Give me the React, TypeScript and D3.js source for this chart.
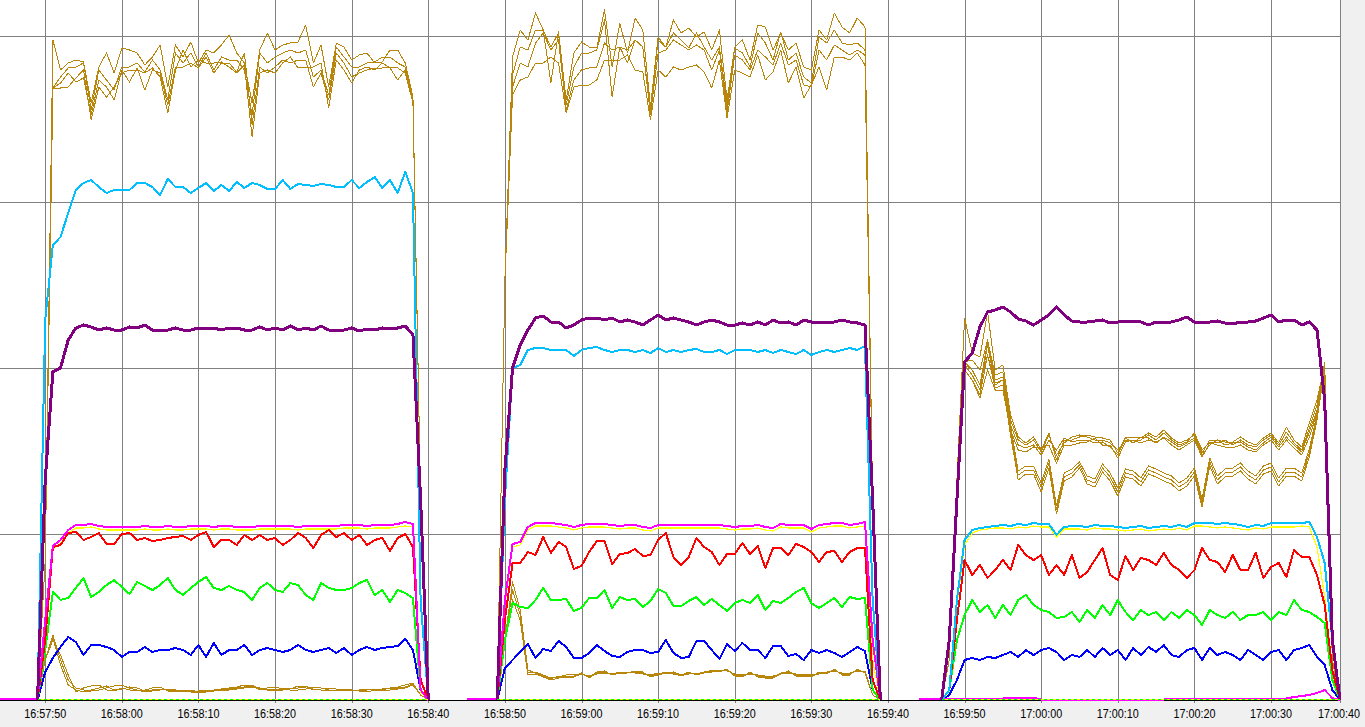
import React from "react";
import * as d3 from "d3";

const WIDTH = 1365;
const HEIGHT = 727;
const PLOT_RIGHT = 1340;
const PLOT_BOTTOM = 700;

// time axis: seconds relative to 16:57:50
const BASE = { h: 16, m: 57, s: 50 };
const X_DOMAIN_SECONDS = [-5.9, 169];
const TICK_LABELS = [
  "16:57:50", "16:58:00", "16:58:10", "16:58:20", "16:58:30", "16:58:40",
  "16:58:50", "16:59:00", "16:59:10", "16:59:20", "16:59:30", "16:59:40",
  "16:59:50", "17:00:00", "17:00:10", "17:00:20", "17:00:30", "17:00:40",
];
const Y_MAX = 700;
const Y_GRID = [165, 331, 497, 663];

const RUN_STARTS = [-1, 59, 117];
const MAGENTA_STARTS = [-6, 55, 114];
const IDLE_ZERO_SPANS = [[-1, 50], [59, 109], [117, 169]];

// ---- gold, upper bundle (4 lines) ----
const GOLD_A_1 = [0,140,660,630,637,640,638,597,633,647,627,652,650,647,635,643,655,613,655,643,658,637,650,647,655,665,647,637,597,650,667,650,655,657,658,675,637,655,613,657,653,640,645,647,637,638,650,650,637,603,200,0];
const GOLD_B_1 = [0,140,612,623,632,633,637,590,630,620,610,633,633,637,628,640,630,600,647,637,647,633,647,630,643,640,640,630,585,647,637,643,647,650,647,650,623,630,605,653,643,633,633,637,638,643,643,637,633,600,200,0];
const GOLD_C_1 = [0,140,612,617,627,618,622,585,620,613,600,630,618,632,610,630,627,595,633,633,637,632,643,627,637,637,628,647,575,633,627,633,640,637,640,640,613,627,600,647,637,623,627,630,632,632,633,632,627,597,200,0];
const GOLD_D_1 = [0,140,612,612,613,622,630,580,613,603,613,627,630,630,627,632,623,587,630,650,633,640,637,637,638,633,627,635,563,627,630,627,637,643,632,633,633,637,592,640,630,617,630,633,630,637,632,620,630,599,200,0];

const GOLD_A_2 = [0,420,643,670,660,687,670,617,668,600,647,658,653,652,690,633,677,647,682,670,593,663,653,680,667,672,663,668,650,670,600,653,660,640,675,673,650,667,650,657,633,630,670,660,687,673,667,682,673,200,0];
const GOLD_B_2 = [0,420,625,653,650,670,670,653,667,595,633,647,647,650,680,603,653,650,660,653,588,660,653,667,660,652,667,653,640,653,595,652,647,633,667,657,640,668,640,647,623,617,663,657,670,657,655,657,650,200,0];
const GOLD_C_2 = [0,420,613,637,633,657,667,650,660,590,620,630,632,633,657,650,653,637,660,653,585,647,650,660,655,650,655,650,630,650,588,645,640,630,650,643,635,657,635,640,615,613,650,640,655,650,645,650,645,200,0];
const GOLD_D_2 = [0,420,605,620,623,637,637,643,637,587,613,615,615,620,640,640,640,645,630,628,580,630,623,633,630,633,635,628,612,640,582,630,627,623,645,620,628,650,617,633,602,615,633,610,643,643,640,647,635,200,0];

const GOLD_A_3 = [0,40,220,382,347,343,388,330,335,285,263,257,263,250,267,240,260,260,263,265,263,262,260,247,263,263,262,267,263,270,262,257,260,265,247,260,260,258,258,263,258,255,262,267,257,273,260,253,277,300,335,40,0];
const GOLD_B_3 = [0,40,220,338,340,330,360,325,328,280,260,255,260,248,265,245,257,263,265,263,260,260,257,250,260,260,260,265,260,267,260,255,258,267,250,258,257,260,255,260,255,253,260,265,255,268,257,250,272,295,332,40,0];
const GOLD_C_3 = [0,40,220,335,330,315,345,317,320,275,255,252,255,245,260,250,262,258,260,260,257,258,253,245,262,257,263,262,257,263,258,253,257,262,245,255,260,255,257,258,253,250,257,263,253,263,255,248,268,290,328,40,0];
const GOLD_D_3 = [0,40,220,330,320,302,330,310,310,270,250,248,253,252,255,237,255,255,257,258,262,255,255,242,258,260,257,260,258,262,255,250,255,260,243,257,255,253,252,255,250,248,255,260,250,260,252,245,263,287,325,40,0];

// ---- gold, lower bundle (3 lines) ----
const GOLD_L1_1 = [0,40,65,40,20,12,10,10,12,14,10,11,13,12,9,10,11,10,9,9,10,8,9,10,11,12,13,15,15,10,11,10,11,12,12,14,10,11,12,11,10,10,9,10,11,10,12,13,15,17,5,0];
const GOLD_L2_1 = [0,40,60,45,25,8,12,14,15,10,9,12,10,9,10,12,13,9,8,10,8,7,8,9,10,11,12,13,14,12,10,9,10,11,14,12,11,10,9,10,10,9,10,11,9,11,12,12,13,16,5,0];
const GOLD_L3_1 = [0,40,62,35,15,10,8,9,10,12,14,15,12,10,8,9,10,11,10,8,9,9,10,10,9,10,11,12,13,11,12,13,11,10,10,11,13,12,10,9,11,10,9,8,10,10,10,11,12,15,5,0];

const GOLD_L1_2 = [0,60,118,90,30,27,24,21,24,24,24,27,22,27,28,26,28,28,28,27,24,26,28,27,24,27,26,28,29,29,30,25,24,27,24,23,23,27,28,25,25,24,27,27,30,26,26,30,28,5,0];
const GOLD_L2_2 = [0,60,110,85,28,28,25,22,23,25,26,26,24,26,27,27,27,28,27,26,25,27,27,26,25,26,27,27,28,30,29,26,25,26,25,24,24,26,27,26,26,25,26,28,29,27,27,29,29,5,0];
const GOLD_L3_2 = [0,60,100,80,25,26,23,20,22,23,23,26,23,28,29,25,27,27,29,28,23,25,27,28,25,28,25,27,30,28,31,24,23,28,23,22,22,26,29,24,24,23,28,26,31,25,25,31,27,5,0];

const GOLD_L1_3 = [0,40,220,335,325,310,355,315,320,270,225,230,230,213,237,190,223,227,235,220,217,232,223,208,227,225,218,230,227,223,220,213,218,228,197,238,220,227,228,233,225,220,230,233,218,228,228,223,247,283,335,40,0];
const GOLD_L2_3 = [0,40,220,330,320,305,345,312,315,265,220,226,226,208,232,186,219,223,232,216,213,228,219,204,223,221,214,226,223,219,216,209,214,224,193,234,216,223,224,229,221,216,226,229,214,224,224,219,243,280,332,40,0];
const GOLD_L3_3 = [0,40,220,338,330,315,358,320,323,275,229,234,234,217,241,194,227,231,238,224,221,236,227,212,231,229,222,234,231,227,224,217,222,232,201,242,224,231,232,237,229,224,234,237,222,232,232,227,251,286,338,40,0];

// ---- cyan ----
const CYAN_1 = [0,380,455,463,487,510,517,520,513,507,510,510,510,517,517,513,505,521,513,513,507,512,517,509,515,509,518,512,517,515,511,511,520,511,516,515,514,516,515,513,513,520,512,518,523,512,520,507,528,507,100,0];
const CYAN_2 = [0,200,332,335,350,352,352,350,350,350,344,350,352,353,350,348,350,350,348,350,347,352,348,350,348,350,351,348,348,350,346,350,350,350,348,350,347,350,348,346,350,345,348,350,348,350,352,350,354,100,0];
const CYAN_3 = [0,10,100,160,170,172,173,174,175,174,176,175,177,176,176,165,173,174,174,173,175,174,174,173,172,173,174,172,173,174,173,175,173,177,177,177,176,177,176,175,173,175,174,177,177,177,177,177,178,163,137,60,0];

// ---- purple ----
const PURPLE_1 = [0,220,328,332,360,372,375,373,370,372,370,370,373,372,375,370,370,370,372,370,370,372,372,372,370,372,372,370,370,373,370,372,370,374,370,372,370,374,370,369,370,372,369,371,370,372,371,372,374,365,200,0];
const PURPLE_2 = [0,230,332,355,370,382,384,378,378,372,375,380,382,382,380,382,378,380,378,375,380,385,380,382,380,378,375,378,380,378,375,375,377,375,378,375,380,377,378,375,380,378,377,378,378,380,378,377,375,200,0];
const PURPLE_3 = [0,60,200,338,347,373,388,390,393,388,381,379,375,380,385,393,385,379,378,378,379,380,377,378,379,379,378,375,378,378,378,380,383,378,378,378,379,377,376,378,378,379,382,385,378,380,380,375,378,370,300,60,0];

// ---- magenta ----
const MAGENTA_1 = [1,1,1,1,1,1,80,154,160,170,175,175,176,174,173,173,173,173,173,174,173,173,174,173,173,174,174,174,173,174,174,173,173,173,174,174,174,174,174,173,174,174,174,174,174,175,175,175,174,175,175,175,176,178,176,10,0];
const MAGENTA_2 = [1,1,1,1,1,100,156,158,173,177,177,177,176,175,173,175,176,176,176,175,174,175,175,173,172,175,175,175,175,175,175,175,175,175,174,173,174,174,175,173,172,176,175,175,175,171,175,176,177,177,175,176,178,60,0];
const MAGENTA_3 = [1,1,1,1,1,1.5,1.5,1.5,1.5,1.5,1.5,1.5,2.5,2.5,2.5,2.5,0.5,0.5,0.5,0.5,0.5,0.5,0.5,0.5,0.5,0.5,0.5,0.5,0.5,0.5,0.5,0.5,0.5,1,1,1,1,1,1,1,1,1,1,1.5,1.5,1.5,1.5,1.5,1.5,3,4,5,7,10,2,0];

// ---- yellow ----
const YELLOW_1 = [0,75,150,157,167,172,172,173,171,170,170,170,170,170,171,170,170,171,170,170,171,171,171,170,171,171,170,170,170,171,171,171,171,171,170,171,171,171,171,171,172,172,172,171,172,172,172,173,174,173,8,0];
const YELLOW_2 = [0,95,153,155,170,174,174,174,173,172,170,172,173,173,173,172,171,172,172,170,169,172,172,172,172,172,172,172,172,172,171,170,171,171,172,170,169,173,172,172,172,168,172,173,174,174,172,173,174,40,0];
const YELLOW_3 = [0,8,95,155,167,170,171,172,172,171,173,172,174,173,173,163,171,171,171,170,172,171,171,170,169,170,171,169,170,171,170,172,170,174,174,173,172,173,172,171,170,172,171,173,173,173,173,174,173,153,103,30,0];

// ---- red ----
const RED_1 = [0,60,153,155,167,168,160,163,167,156,156,166,167,160,162,159,160,162,163,164,160,165,168,153,160,160,155,165,160,165,160,162,155,160,167,162,152,165,170,163,167,160,165,155,160,162,149,162,166,153,20,0];
const RED_2 = [0,80,137,137,148,145,163,147,158,153,131,134,148,159,159,136,146,147,151,144,145,160,167,143,135,143,162,153,148,135,146,146,157,146,154,132,152,152,145,156,153,148,138,148,149,138,148,152,152,20,0];
const RED_3 = [0,10,80,140,125,135,122,130,140,130,155,145,140,145,125,135,125,145,122,128,140,152,125,120,144,130,142,140,135,147,135,130,122,130,152,140,138,128,145,130,130,147,122,133,137,123,150,143,143,125,95,30,0];

// ---- green ----
const GREEN_1 = [0,50,108,100,102,112,122,103,108,115,120,113,106,118,114,110,115,122,110,105,112,118,123,112,110,114,110,108,100,112,117,110,108,117,115,105,100,117,112,110,110,112,117,120,105,110,98,110,107,102,10,0];
const GREEN_2 = [0,60,97,93,92,100,112,100,100,101,89,92,102,102,110,92,103,100,101,93,99,111,107,94,94,99,103,95,101,95,89,97,100,97,105,90,99,97,102,108,112,97,92,97,102,93,103,101,102,10,0];
const GREEN_3 = [0,10,60,85,100,88,95,82,95,85,100,105,95,90,88,82,83,88,78,90,82,95,85,100,88,80,90,85,88,80,88,82,90,85,75,90,85,82,88,80,85,85,88,80,88,85,100,90,88,83,77,20,0];

// ---- blue ----
const BLUE_1 = [0,28,42,53,63,58,45,55,55,53,50,43,48,48,53,48,50,50,52,50,45,55,43,57,45,50,50,55,45,50,52,50,48,50,55,50,48,50,52,47,52,45,50,53,50,52,53,54,61,50,10,0];
const BLUE_2 = [0,32,40,48,56,42,51,49,59,53,42,42,47,55,49,44,43,48,50,50,47,48,60,47,42,43,59,59,50,41,56,49,57,50,50,42,54,54,44,46,40,50,47,50,47,43,48,53,49,10,0];
const BLUE_3 = [0,5,20,40,42,40,43,42,45,48,43,50,45,50,52,48,40,45,43,50,43,52,45,50,40,52,45,53,48,55,45,43,50,52,40,52,45,48,45,40,50,45,40,48,50,40,50,52,55,43,35,10,0];

const GOLD = "#b8860b";

type Series = { key: string; color: string; width: number; starts: number[]; runs: number[][] };

const SERIES: Series[] = [
  { key: "goldA", color: GOLD, width: 1, starts: RUN_STARTS, runs: [GOLD_A_1, GOLD_A_2, GOLD_A_3] },
  { key: "goldB", color: GOLD, width: 1, starts: RUN_STARTS, runs: [GOLD_B_1, GOLD_B_2, GOLD_B_3] },
  { key: "goldC", color: GOLD, width: 1, starts: RUN_STARTS, runs: [GOLD_C_1, GOLD_C_2, GOLD_C_3] },
  { key: "goldD", color: GOLD, width: 1, starts: RUN_STARTS, runs: [GOLD_D_1, GOLD_D_2, GOLD_D_3] },
  { key: "goldL1", color: GOLD, width: 1, starts: RUN_STARTS, runs: [GOLD_L1_1, GOLD_L1_2, GOLD_L1_3] },
  { key: "goldL2", color: GOLD, width: 1, starts: RUN_STARTS, runs: [GOLD_L2_1, GOLD_L2_2, GOLD_L2_3] },
  { key: "goldL3", color: GOLD, width: 1, starts: RUN_STARTS, runs: [GOLD_L3_1, GOLD_L3_2, GOLD_L3_3] },
  { key: "yellow", color: "#ffff00", width: 1.2, starts: RUN_STARTS, runs: [YELLOW_1, YELLOW_2, YELLOW_3] },
  { key: "blue", color: "#0000ff", width: 2, starts: RUN_STARTS, runs: [BLUE_1, BLUE_2, BLUE_3] },
  { key: "green", color: "#00ff00", width: 2, starts: RUN_STARTS, runs: [GREEN_1, GREEN_2, GREEN_3] },
  { key: "red", color: "#ff0000", width: 2, starts: RUN_STARTS, runs: [RED_1, RED_2, RED_3] },
  { key: "magenta", color: "#ff00ff", width: 2, starts: MAGENTA_STARTS, runs: [MAGENTA_1, MAGENTA_2, MAGENTA_3] },
  { key: "cyan", color: "#00bfff", width: 2, starts: RUN_STARTS, runs: [CYAN_1, CYAN_2, CYAN_3] },
  { key: "purple", color: "#800080", width: 3, starts: RUN_STARTS, runs: [PURPLE_1, PURPLE_2, PURPLE_3] },
];

const baseMs = new Date(2024, 0, 1, BASE.h, BASE.m, BASE.s).getTime();
const secToDate = (s: number) => new Date(baseMs + s * 1000);
const labelToDate = (l: string) => {
  const [h, m, s] = l.split(":").map(Number);
  return new Date(2024, 0, 1, h, m, s);
};

type Pt = { t: Date; v: number };

export default function App() {
  const x = d3
    .scaleTime()
    .domain([secToDate(X_DOMAIN_SECONDS[0]), secToDate(X_DOMAIN_SECONDS[1])])
    .range([0, PLOT_RIGHT])
    .clamp(true);
  const y = d3.scaleLinear().domain([0, Y_MAX]).range([PLOT_BOTTOM, 0]);
  const line = d3
    .line<Pt>()
    .x((d) => x(d.t))
    .y((d) => y(d.v));

  const crisp = (v: number) => Math.round(v) + 0.5;

  return (
    <svg
      width={WIDTH}
      height={HEIGHT}
      style={{ position: "absolute", left: 0, top: 0, display: "block" }}
    >
      <rect x={0} y={0} width={WIDTH} height={HEIGHT} fill="#f0f0f0" />
      <rect x={0} y={0} width={PLOT_RIGHT} height={PLOT_BOTTOM} fill="#ffffff" />
      <g shapeRendering="crispEdges" stroke="#808080" strokeWidth={1}>
        {Y_GRID.map((v) => (
          <line key={"h" + v} x1={0} x2={PLOT_RIGHT} y1={crisp(y(v)) - 1} y2={crisp(y(v)) - 1} />
        ))}
        {TICK_LABELS.map((l) => {
          const xx = Math.min(crisp(x(labelToDate(l))), PLOT_RIGHT + 0.5);
          return <line key={"v" + l} x1={xx} x2={xx} y1={0} y2={PLOT_BOTTOM + 3} />;
        })}
      </g>
      <line
        x1={0}
        x2={PLOT_RIGHT}
        y1={PLOT_BOTTOM + 0.5}
        y2={PLOT_BOTTOM + 0.5}
        stroke="#000000"
        strokeWidth={1}
        shapeRendering="crispEdges"
      />
      <g fill="none" shapeRendering="crispEdges" strokeLinejoin="round">
        {SERIES.map((s) =>
          s.runs.map((vals, i) => {
            const pts: Pt[] = vals.map((v, j) => ({ t: secToDate(s.starts[i] + j), v }));
            return (
              <path
                key={s.key + i}
                d={line(pts) || ""}
                stroke={s.color}
                strokeWidth={s.width}
              />
            );
          })
        )}
      </g>
      <g shapeRendering="crispEdges">
        {IDLE_ZERO_SPANS.map(([a, b], i) => (
          <g key={"z" + i}>
            <line x1={x(secToDate(a))} x2={x(secToDate(b))} y1={PLOT_BOTTOM - 0.5} y2={PLOT_BOTTOM - 0.5} stroke="#ffff00" strokeWidth={1} />
            <line x1={x(secToDate(a))} x2={x(secToDate(b))} y1={PLOT_BOTTOM - 0.5} y2={PLOT_BOTTOM - 0.5} stroke="#00ff00" strokeWidth={1} strokeDasharray="3 3" />
          </g>
        ))}
      </g>
      <g fontFamily="'Liberation Sans', Arial, sans-serif" fontSize={12.5} fill="#000000" textAnchor="middle">
        {TICK_LABELS.map((l) => (
          <text
            key={"t" + l}
            x={Math.min(x(labelToDate(l)), PLOT_RIGHT - 1)}
            y={718}
            textLength={42}
            lengthAdjust="spacingAndGlyphs"
          >
            {l}
          </text>
        ))}
      </g>
    </svg>
  );
}
